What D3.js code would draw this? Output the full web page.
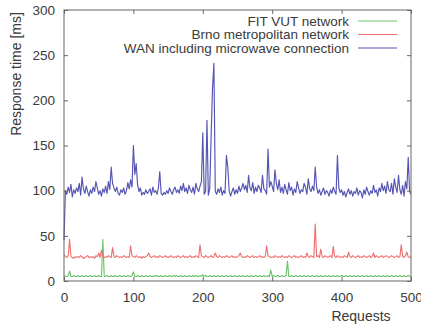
<!DOCTYPE html>
<html>
<head>
<meta charset="utf-8">
<script src="https://cdn.jsdelivr.net/npm/d3@7"></script>
<style>
  body { margin: 0; background: #fff; }
  svg text { font-family: "Liberation Sans", Arial, sans-serif; fill: #3a3a3a; }
</style>
</head>
<body>
<div id="chart"></div>
<script>
// requests 0..500, sampled every 2nd request
const requests = d3.range(0, 501, 2);

const fitVut = [
  6, 5, 5, 6, 11, 5, 5, 6, 5, 5,
  6, 5, 5, 6, 5, 5, 6, 5, 5, 6,
  5, 5, 6, 5, 5, 6, 5, 5, 46, 5,
  5, 6, 5, 5, 6, 5, 5, 6, 5, 5,
  6, 5, 5, 6, 5, 5, 6, 5, 5, 6,
  10, 5, 5, 6, 5, 5, 6, 5, 5, 6,
  5, 5, 6, 5, 5, 6, 5, 6, 5, 5,
  6, 5, 5, 6, 5, 5, 6, 5, 5, 6,
  5, 6, 5, 5, 6, 5, 5, 6, 5, 5,
  6, 5, 5, 6, 5, 6, 5, 5, 6, 5,
  7, 5, 6, 5, 5, 6, 5, 5, 6, 5,
  5, 6, 5, 5, 6, 5, 5, 6, 5, 5,
  6, 5, 5, 6, 5, 5, 6, 5, 5, 6,
  5, 5, 6, 5, 5, 6, 5, 5, 6, 5,
  5, 6, 5, 5, 6, 5, 5, 6, 5, 12,
  5, 6, 5, 5, 6, 5, 5, 6, 5, 5,
  6, 22, 5, 5, 6, 5, 5, 6, 5, 5,
  6, 5, 5, 6, 5, 5, 6, 5, 5, 6,
  5, 5, 6, 5, 5, 6, 5, 5, 6, 5,
  5, 6, 5, 5, 6, 5, 5, 6, 5, 5,
  6, 5, 5, 6, 5, 5, 6, 5, 5, 6,
  5, 5, 6, 5, 5, 6, 5, 5, 6, 5,
  5, 6, 5, 5, 6, 5, 5, 6, 5, 5,
  6, 5, 5, 6, 5, 5, 6, 5, 5, 6,
  5, 5, 6, 5, 5, 6, 5, 5, 6, 5,
  5
];

const brno = [
  29, 27, 26, 28, 46, 27, 26, 25, 27, 26,
  27, 26, 28, 27, 25, 26, 27, 28, 26, 27,
  26, 27, 25, 28, 27, 31, 26, 34, 27, 26,
  27, 26, 28, 27, 26, 37, 27, 26, 28, 27,
  26, 27, 26, 28, 27, 26, 27, 26, 39, 28,
  27, 26, 28, 27, 26, 27, 25, 27, 26, 27,
  28, 31, 27, 26, 27, 28, 26, 27, 26, 28,
  27, 26, 27, 28, 26, 27, 26, 28, 27, 26,
  27, 26, 28, 27, 26, 27, 28, 26, 27, 26,
  27, 28, 26, 27, 26, 28, 27, 26, 40, 28,
  27, 26, 28, 27, 26, 27, 28, 26, 27, 31,
  27, 26, 28, 27, 26, 27, 26, 28, 27, 26,
  27, 28, 26, 27, 26, 27, 28, 31, 27, 26,
  27, 26, 28, 27, 26, 27, 28, 26, 27, 26,
  27, 28, 26, 27, 26, 27, 39, 28, 27, 26,
  27, 26, 28, 27, 26, 27, 26, 28, 27, 26,
  27, 26, 28, 27, 26, 27, 28, 26, 27, 26,
  27, 28, 26, 27, 26, 31, 27, 26, 28, 27,
  26, 63, 27, 28, 26, 35, 27, 26, 28, 27,
  26, 27, 28, 26, 38, 27, 26, 28, 27, 26,
  27, 26, 28, 27, 26, 32, 27, 26, 28, 27,
  26, 27, 28, 26, 27, 26, 28, 27, 26, 27,
  28, 26, 27, 31, 26, 28, 27, 26, 27, 28,
  26, 27, 28, 27, 26, 27, 28, 27, 26, 27,
  28, 26, 27, 40, 27, 26, 28, 32, 27, 26,
  27
];

const wan = [
  45, 100, 96, 104, 98, 107, 93, 101, 97, 103,
  99, 108, 95, 115, 102, 97, 105, 99, 94, 101,
  97, 104, 99, 110, 103, 96, 100, 94, 102, 98,
  105, 97, 110, 101, 126, 108, 103, 99, 104, 97,
  95, 101, 98, 103, 96, 100, 109, 102, 112, 104,
  150, 118, 130, 107, 99, 103, 95, 98, 96, 101,
  97, 99, 102, 95, 104, 98, 100, 96, 103, 121,
  97, 95, 98, 96, 100, 97, 103, 99, 96, 101,
  104, 98, 101, 97, 105, 100, 108, 99, 103, 97,
  106, 101, 98, 104, 96, 108, 102, 99, 105, 110,
  164, 96, 99, 178, 95, 102, 160, 214, 241, 99,
  96, 102, 98, 104, 95, 100, 97, 139, 126, 100,
  94, 99, 103, 96, 101, 97, 105, 99, 103, 108,
  101, 106, 98, 117, 103, 100, 109, 97, 104, 99,
  106, 103, 98, 117, 102, 100, 96, 146, 104, 110,
  105, 99, 123, 108, 101, 112, 98, 104, 97, 107,
  101, 96, 109, 100, 104, 95, 102, 98, 110, 103,
  97, 101, 99, 108, 104, 96, 113, 102, 99, 105,
  100, 126, 104, 97, 101, 95, 99, 103, 96, 100,
  98, 94, 101, 97, 104, 99, 96, 139, 103, 98,
  101, 95, 99, 93, 98, 102, 96, 100, 94, 99,
  97, 103, 95, 100, 98, 92, 101, 96, 104, 99,
  95, 100, 97, 106, 98, 101, 94, 103, 99, 108,
  100, 105, 97, 110, 101, 99, 108, 96, 113, 104,
  98, 117, 101, 96, 106, 94, 110, 102, 137, 99,
  96
];

const seriesNames = ['FIT VUT network', 'Brno metropolitan network', 'WAN including microwave connection'];
const seriesColors = ['#6cc46c', '#ef7070', '#5454b4'];
const xTicks = [0, 100, 200, 300, 400, 500];
const yTicks = [0, 50, 100, 150, 200, 250, 300];

const width = 421;
const height = 326;

const plot = { left: 64, right: 411, top: 10, bottom: 281 };

const x = d3.scaleLinear().domain([0, 500]).range([plot.left, plot.right]);
const y = d3.scaleLinear().domain([0, 300]).range([plot.bottom, plot.top]);

const svg = d3.select('#chart').append('svg')
  .attr('width', width)
  .attr('height', height);

svg.append('rect').attr('width', width).attr('height', height).attr('fill', '#fff');

// data lines, drawn in legend order so blue ends on top
const line = d3.line()
  .x((d, i) => x(requests[i]))
  .y(d => y(d));

const data = [fitVut, brno, wan];

svg.append('g').attr('class', 'lines')
  .selectAll('path')
  .data(data)
  .enter().append('path')
  .attr('d', d => line(d))
  .attr('fill', 'none')
  .attr('stroke', (d, i) => seriesColors[i])
  .attr('stroke-width', 1.15)
  .attr('stroke-linejoin', 'round');

// axes: gnuplot style, ticks inside, mirrored on top/right
const tickLen = 4;
const axisColor = '#666';

svg.append('g').attr('transform', `translate(0,${plot.bottom})`)
  .call(d3.axisBottom(x).tickValues(xTicks).tickSize(-tickLen).tickPadding(11))
  .call(g => g.select('.domain').remove());

svg.append('g').attr('transform', `translate(${plot.left},0)`)
  .call(d3.axisLeft(y).tickValues(yTicks).tickSize(-tickLen).tickPadding(9))
  .call(g => g.select('.domain').remove());

svg.append('g').attr('transform', `translate(0,${plot.top})`)
  .call(d3.axisTop(x).tickValues(xTicks).tickSize(-tickLen).tickFormat(''))
  .call(g => g.select('.domain').remove());

svg.append('g').attr('transform', `translate(${plot.right},0)`)
  .call(d3.axisRight(y).tickValues(yTicks).tickSize(-tickLen).tickFormat(''))
  .call(g => g.select('.domain').remove());

svg.selectAll('.tick line').attr('stroke', axisColor);
svg.selectAll('.tick text').attr('font-size', 13.5).style('fill', '#3a3a3a');

svg.append('rect')
  .attr('x', plot.left)
  .attr('y', plot.top)
  .attr('width', plot.right - plot.left)
  .attr('height', plot.bottom - plot.top)
  .attr('fill', 'none')
  .attr('stroke', axisColor)
  .attr('stroke-width', 1);

// axis titles
svg.append('text')
  .attr('transform', 'translate(21,74) rotate(-90)')
  .attr('text-anchor', 'middle')
  .attr('font-size', 14)
  .text('Response time [ms]');

svg.append('text')
  .attr('x', 361)
  .attr('y', 321)
  .attr('text-anchor', 'middle')
  .attr('font-size', 14)
  .text('Requests');

// legend
const legend = svg.selectAll('.legend')
  .data(seriesNames)
  .enter().append('g')
  .attr('class', 'legend')
  .attr('transform', (d, i) => `translate(0,${21 + i * 13.5})`);

legend.append('text')
  .attr('x', 349)
  .attr('y', 4.5)
  .attr('text-anchor', 'end')
  .attr('font-size', 13.5)
  .text(d => d);

legend.append('line')
  .attr('x1', 358)
  .attr('x2', 397)
  .attr('stroke', (d, i) => seriesColors[i])
  .attr('stroke-width', 1.15);
</script>
</body>
</html>
